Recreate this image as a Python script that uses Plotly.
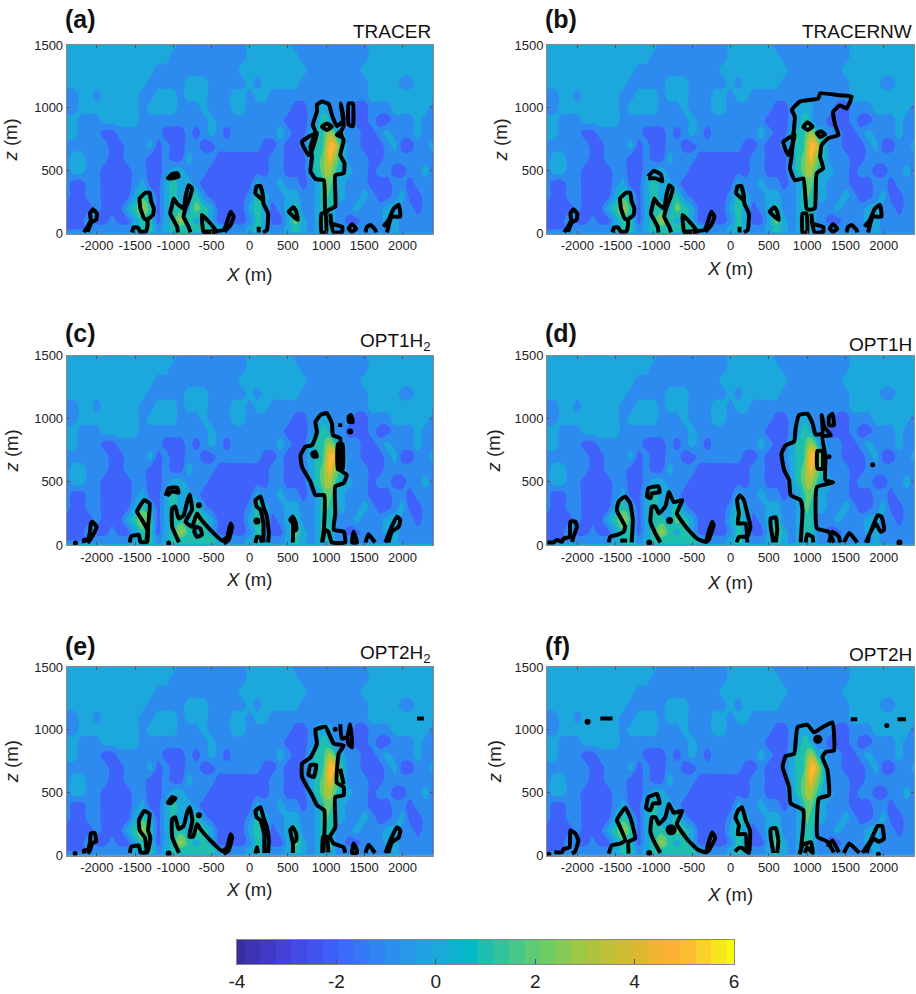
import plotly.graph_objects as go

# ---- shaded field (same in all panels), read as band value / last column (X in hundreds of m)
X_VALUES = [-2400, -2300, -2200, -2100, -2000, -1900, -1800, -1700, -1600, -1500, -1400, -1300, -1200, -1100,
            -1000, -900, -800, -700, -600, -500, -400, -300, -200, -100, 0, 100, 200, 300, 400, 500, 600, 700,
            800, 900, 950, 1000, 1050, 1100, 1150, 1200, 1300, 1400, 1500, 1600, 1700, 1800, 1900, 2000, 2100,
            2200, 2300, 2400]
Z_VALUES = [0, 20, 50, 100, 200, 300, 400, 500, 600, 700, 800, 900, 1000, 1100, 1200, 1300, 1400, 1500]
FIELD_BANDS = {
 1500: [(0,-10),(-1,-1),(0,5),(-1,15),(0,24)],
 1400: [(0,-11),(-1,-1),(0,6),(-1,15),(0,24)],
 1300: [(0,-13),(-1,-2),(0,7),(-1,14),(0,24)],
 1200: [(0,-14),(-1,-9),(0,-6),(-1,-1),(0,0),(-1,1),(0,6),(-1,15),(0,19),(-1,21),(0,24)],
 1100: [(-1,-23),(0,-21),(-1,-20),(0,-15),(-1,-13),(0,-10),(-1,-9),(0,-6),(-1,-3),(0,-1),(-1,0),(0,2),(-1,15),(0,24)],
 1000: [(-1,-23),(0,-15),(-1,-14),(0,-10),(-1,-7),(0,-6),(-1,-3),(0,-1),(-1,5),(-2,7),(-1,8),(0,10.5),(-1,13),(-2,15),(-1,18),(0,23),(-1,24)],
 900: [(0,-23),(-1,-20),(0,-15),(-1,-6),(0,-5),(-1,4),(-2,7),(-1,8),(0,9),(1,10),(0,10.5),(-1,12),(-2,15),(-1,16),(-2,18),(-1,21),(0,22),(-1,24)],
 800: [(0,-23),(-1,-20),(-2,-18),(-1,-12),(-2,-9),(-1,-8),(-2,-7),(-1,-6),(0,-5),(-1,-4),(-2,-3),(-1,3),(0,4),(-1,5),(-2,7),(0,8),(1,9.5),(2,10),(3,10.5),(2,11),(0,12),(-1,14),(-2,16),(-1,17),(0,18),(-1,21),(0,22),(-1,24)],
 700: [(-1,-19),(-2,-17),(-1,-14),(0,-13),(-2,-12),(-1,-11),(-2,-9),(-1,-7),(-2,-5),(-1,1),(-2,3),(-1,4),(-2,6),(-1,7),(0,8),(1,9.5),(3,10),(5,11),(3,11.5),(1,12),(-1,14),(-2,17),(-1,18),(0,19),(-2,21),(-1,23),(0,24)],
 600: [(-1,-24),(0,-22),(-1,-19),(-2,-17),(-1,-14),(-2,-12),(-1,-11),(-2,-9),(0,-8),(-1,-5),(-2,2),(-1,4),(-2,7),(0,8),(1,9),(2,9.5),(3,10),(5,10.5),(3,11),(2,11.5),(1,12),(-1,15),(-2,17),(-1,24)],
 500: [(-1,-24),(0,-22),(-1,-20),(-2,-16),(-1,-14),(-2,-12),(-1,-11),(0,-9),(-1,-6),(-2,2),(-1,4),(-2,7),(0,8),(1,9),(2,9.5),(3,10.5),(2,11),(1,11.5),(0,13),(-1,15),(-2,16),(-1,18),(-2,20),(-1,22),(0,23),(-1,24)],
 400: [(-1,-24),(-2,-22),(-1,-20),(-2,-16),(-1,-15),(0,-14),(-2,-12),(0,-11),(1,-10),(0,-8),(-1,-7),(-2,0),(0,1),(-1,3),(0,4),(-1,6),(-2,7),(-1,8),(0,9),(1,9.5),(2,10.5),(1,11),(0,12),(-1,15),(-2,18),(-1,20),(-2,21),(-1,24)],
 300: [(-1,-24),(-2,-22),(-1,-20),(-2,-16),(0,-15),(1,-14),(0,-13),(-2,-12),(0,-11),(1,-10),(0,-8),(1,-7),(-1,-6),(-2,-1),(-1,0),(1,1),(0,2),(-1,4),(0,6),(-1,8),(0,9),(1,9.5),(2,10),(1,11),(0,12),(-1,14),(0,15),(-1,16),(-2,18),(-1,19),(0,20),(-2,22),(-1,24)],
 200: [(-2,-21),(-1,-20),(-2,-17),(0,-16),(1,-15),(3,-14),(1,-13),(-2,-12),(0,-11),(1,-9),(0,-8),(2,-7),(1,-6),(0,-5),(-2,-1),(0,0),(1,1),(0,2),(-2,3),(-1,4),(0,5),(1,6),(-1,8),(0,9),(1,10.5),(0,11),(-1,13),(0,14),(-1,17),(0,19),(-1,21),(-2,22),(-1,24)],
 100: [(-2,-22),(0,-21),(-2,-19),(-1,-18),(-2,-16),(0,-15),(1,-13),(-2,-12),(0,-11),(1,-10),(3,-9),(1,-8),(0,-7),(1,-6),(0,-5),(-2,-1),(-1,0),(1,1),(0,2),(-2,4),(0,5),(2,6),(0,7),(-1,8),(0,9),(1,10.5),(0,11),(-1,12),(-2,14),(-1,17),(0,19),(-1,24)],
 50: [(-2,-22),(-1,-16),(0,-15),(1,-13),(-1,-12),(0,-11),(1,-5),(0,-4),(-1,-1),(0,0),(1,1),(0,2),(-1,4),(0,5),(1,6),(0,7),(-1,8),(0,9),(1,10.5),(0,11),(-1,18),(0,19),(-1,24)],
 20: [(-1,-16),(0,-15),(1,-13),(-1,-12),(0,-11),(1,-5),(0,-4),(-1,-1),(0,0),(1,1),(0,2),(-1,4),(0,5),(1,6),(0,7),(-1,8),(0,11),(-1,18),(0,19),(-1,24)],
 0: [(0,24)],
}

# ---- black contour outlines per panel, (X, z) in metres
SHARED_AB = [
 [(-2170,10),(-2120,55),(-2080,110),(-2090,160),(-2050,195),(-2000,160),(-2010,110),(-2070,90),(-2120,15)],
 [(-1540,10),(-1520,50),(-1465,50),(-1430,15),(-1355,20),(-1335,80),(-1340,110),(-1265,150),(-1255,200),(-1290,255),(-1310,325),(-1365,325),(-1440,280),(-1430,200),(-1380,120),(-1340,110)],
 [(-940,10),(-950,55),(-1040,160),(-1020,215),(-995,280),(-950,240),(-865,200),(-840,295),(-800,385),(-755,360),(-780,295),(-840,200),(-865,135),(-800,55),(-775,10)],
 [(-625,150),(-600,10),(-430,15),(-535,95),(-625,150)],
 [(-600,15),(-340,30),(-295,95),(-250,175),(-210,135),(-250,70),(-330,15)],
 [(118,10),(118,55)],
 [(175,10),(225,30),(240,160),(180,240),(175,295),(140,380),(90,375),(75,320),(165,270)],
 [(510,175),(575,210),(610,175),(630,110),(575,135),(510,175)],
 [(940,10),(940,160),(990,160),(1000,10),(940,10)],
 [(1055,160),(1075,80),(1210,55),(1210,15),(1100,10),(1055,110)],
 [(1295,40),(1340,75),(1395,40),(1340,15),(1295,40)],
 [(1515,10),(1535,55),(1580,70),(1645,30),(1655,10)],
 [(1750,55),(1820,110),(1885,200),(1950,230),(1970,135),(1860,135),(1795,10)],
]
PANEL_A = SHARED_AB + [
 [(-1070,440),(-1015,475),(-950,480),(-930,455),(-1015,440),(-1070,440)],
 [(990,160),(970,425),(860,435),(795,495),(815,610),(795,690),(860,810),(825,865),(880,970),(880,1025),(945,1050),(1035,1030),(1075,945),(1140,855),(1230,905),(1190,1035),(1230,860),(1185,795),(1230,745),(1185,625),(1240,560),(1230,480),(1120,465),(1120,215),(1035,190),(990,160)],
 [(685,730),(770,770),(880,800),(815,665),(770,625),(705,690),(685,730)],
 [(945,850),(1010,875),(1075,850),(1010,825),(945,850)],
 [(1140,785),(1185,810),(1205,770),(1140,785)],
 [(1295,1035),(1350,1035),(1350,855),(1295,865),(1295,1035)],
]
PANEL_B = SHARED_AB + [
 [(-1075,455),(-1000,500),(-910,470),(-890,415),(-975,440),(-1075,440)],
 [(993,200),(950,440),(840,425),(775,520),(795,600),(820,785),(840,930),(800,985),(905,1050),(1145,1075),(1170,1115),(1430,1100),(1580,1090),(1515,995),(1430,1020),(1340,970),(1365,865),(1410,785),(1275,760),(1190,705),(1170,610),(1210,520),(1125,480),(1100,200),(1035,190),(993,200)],
 [(690,730),(840,785),(755,625),(710,680),(690,730)],
 [(950,850),(1005,885),(1070,850),(1005,825),(950,850)],
 [(1125,800),(1180,815),(1235,790),(1170,770),(1125,800)],
]
PANEL_C = [
 [(-2170,15),(-2170,40),(-2120,45),(-2090,105),(-2080,170),(-2060,185),(-2005,145),(-2040,90),(-2090,40),(-2120,15)],
 [(-1570,20),(-1550,70),(-1450,80),(-1430,25),(-1340,25),(-1330,145),(-1310,330),(-1380,355),(-1475,265),(-1410,200),(-1340,120),(-1350,40)],
 [(-1100,390),(-1060,450),(-950,455),(-930,415),(-1015,425),(-1080,390)],
 [(-925,20),(-1015,145),(-1015,290),(-975,305),(-930,210),(-865,235),(-820,340),(-785,400),(-755,280),(-840,185),(-755,145),(-690,250),(-645,210),(-515,120),(-360,35),(-295,65),(-250,170),(-230,145),(-275,40),(-340,10)],
 [(-710,145),(-645,130),(-625,80),(-690,65),(-725,105),(-710,145)],
 [(75,15),(95,65),(140,60),(160,20)],
 [(240,20),(250,90),(225,225),(180,305),(140,385),(75,355),(90,305),(140,280),(180,170),(180,20)],
 [(565,20),(565,170),(530,200),(565,225),(605,170),(610,120),(565,105)],
 [(945,20),(970,120),(975,395),(860,395),(795,500),(685,620),(665,710),(730,780),(815,790),(880,895),(860,975),(925,1030),(1010,1045),(1075,965),(1090,870),(1185,845),(1185,595),(1270,555),(1230,490),(1120,465),(1120,250),(1100,120),(1230,105),(1250,20),(1075,20),(1030,105),(990,120),(950,20)],
 [(1155,800),(1155,600),(1215,600),(1215,800),(1155,800)],
 [(815,725),(860,740),(880,700),(835,700),(815,725)],
 [(1295,1015),(1325,1030),(1350,975),(1300,975),(1295,1015)],
 [(1185,965),(1185,935)],
 [(1340,20),(1360,105),(1405,20),(1340,20)],
 [(1515,20),(1555,85),(1640,20)],
 [(1775,20),(1840,120),(1925,225),(1970,200),(1950,145),(1860,105),(1815,20)],
]
PANEL_D = [
 [(-2390,20),(-2310,20),(-2265,40),(-2200,25),(-2180,50),(-2100,65),(-2090,185),(-2025,185),(-2005,145),(-2050,65),(-2070,25)],
 [(-1590,20),(-1570,65),(-1460,85),(-1395,105),(-1375,145),(-1485,275),(-1460,345),(-1375,385),(-1310,330),(-1275,200),(-1290,20)],
 [(-1440,35),(-1350,35)],
 [(-1090,385),(-1070,450),(-940,465),(-925,420),(-1025,410),(-1045,370),(-1090,385)],
 [(-915,20),(-980,90),(-1045,185),(-1025,305),(-980,305),(-935,250),(-850,305),(-805,420),(-740,340),(-630,355),(-700,250),(-565,130),(-435,50),(-325,25),(-285,105),(-240,185),(-220,160),(-285,40),(-325,20)],
 [(80,20),(110,65),(220,65),(260,145),(220,250),(175,355),(120,395),(85,355),(110,250),(95,170),(195,170),(220,20)],
 [(560,20),(525,145),(525,210),(590,220),(610,120),(590,20)],
 [(915,20),(940,275),(915,355),(785,395),(765,515),(700,595),(665,725),(720,790),(830,820),(850,925),(895,1030),(1005,1040),(1070,965),(1110,875),(1200,885),(1190,1030),(1225,935),(1310,870),(1200,860),(1240,700),(1240,515),(1340,495),(1130,460),(1110,275),(1130,130),(1280,105),(1350,20)],
 [(1135,745),(1135,605),(1200,605),(1200,745),(1135,745)],
 [(1285,1015),(1330,1040),(1350,950),(1285,950),(1285,1015)],
 [(980,20),(1000,85),(1070,65),(1080,20)],
 [(1285,20),(1330,105),(1415,65),(1430,20)],
 [(1480,20),(1550,95),(1655,20)],
 [(1765,20),(1830,105),(1920,235),(1970,225),(2005,120),(1960,105),(1895,170),(1810,80),(1790,20)],
]
PANEL_E = [
 [(-2170,15),(-2170,40),(-2120,45),(-2090,105),(-2080,175),(-2030,180),(-2010,110),(-2060,100),(-2090,40),(-2120,15)],
 [(-1570,20),(-1550,70),(-1450,80),(-1430,25),(-1340,25),(-1300,140),(-1330,200),(-1310,330),(-1380,355),(-1450,280),(-1440,200),(-1370,140),(-1350,40)],
 [(-1070,420),(-1015,465),(-970,455),(-1035,415),(-1070,420)],
 [(-925,20),(-1015,145),(-1015,290),(-975,305),(-930,210),(-865,235),(-820,340),(-785,385),(-750,280),(-790,150),(-740,150),(-690,250),(-645,210),(-515,120),(-360,35),(-295,65),(-250,170),(-230,145),(-275,40),(-340,10)],
 [(75,15),(95,65),(110,20)],
 [(240,20),(250,120),(225,225),(180,305),(140,385),(75,355),(90,305),(140,280),(190,170),(190,20)],
 [(565,20),(565,100),(530,200),(565,225),(610,170),(610,120),(565,100)],
 [(965,25),(975,360),(880,400),(815,480),(685,625),(685,730),(795,780),(880,890),(860,1000),(990,1025),(1055,945),(1100,890),(1230,875),(1165,810),(1140,580),(1230,545),(1230,480),(1120,465),(1120,225),(1050,150),(1100,95),(1230,65),(1250,20)],
 [(950,20),(960,150),(1010,150),(1030,25)],
 [(770,640),(795,720),(870,720),(840,625),(770,640)],
 [(1185,690),(1230,570)],
 [(1185,1045),(1205,930),(1275,945),(1315,1045),(1340,860),(1295,885),(1275,945)],
 [(2190,1090),(2280,1090)],
 [(1340,20),(1360,95),(1405,40),(1400,20),(1340,20)],
 [(1515,20),(1555,85),(1640,20)],
 [(1775,20),(1840,120),(1925,225),(1970,200),(1950,145),(1860,105),(1815,20)],
]
PANEL_F = [
 [(-2300,25),(-2200,25),(-2180,50),(-2100,65),(-2090,200),(-2025,175),(-1985,120),(-2030,30),(-2070,15)],
 [(-1590,15),(-1550,80),(-1440,95),(-1375,120),(-1460,250),(-1485,280),(-1375,380),(-1310,305),(-1245,135),(-1330,110),(-1330,15)],
 [(-1100,375),(-1070,465),(-960,490),(-925,415),(-1010,415),(-1045,360),(-1100,375)],
 [(-915,20),(-980,90),(-1045,185),(-1025,305),(-980,305),(-935,250),(-850,305),(-805,410),(-740,340),(-630,355),(-700,250),(-565,130),(-435,50),(-325,25),(-285,105),(-240,185),(-200,140),(-285,40),(-325,20)],
 [(60,30),(110,60),(150,60),(240,20),(255,200),(200,280),(150,385),(100,360),(65,300),(110,240),(95,170),(195,170),(210,30)],
 [(560,20),(525,145),(525,210),(590,220),(625,120),(610,20)],
 [(915,25),(950,360),(785,415),(765,545),(680,705),(720,790),(830,810),(875,1020),(1005,1040),(1090,980),(1200,1020),(1330,1060),(1350,835),(1245,825),(1200,785),(1265,680),(1285,480),(1155,455),(1135,150),(1265,110),(1350,25)],
 [(900,10),(945,85),(1050,105),(1075,20),(1000,65),(970,20)],
 [(-1700,1090),(-1540,1090)],
 [(1570,1085),(1655,1085)],
 [(2180,1085),(2290,1085)],
 [(1265,70),(1330,120),(1415,25)],
 [(1480,20),(1550,95),(1680,20)],
 [(1720,20),(1830,120),(1920,235),(1980,235),(2000,130),(1930,110),(1870,135),(1800,65),(1780,20)],
]
# small closed blobs, (X, z, marker diameter)
DOTS_A = []
DOTS_B = []
DOTS_C = [(-2280,15,5),(-1060,15,5),(-665,315,6),(95,190,7),(1315,900,6)]
DOTS_D = [(-1060,20,6),(-795,195,7),(1285,700,5),(1855,635,5),(2205,20,6)]
DOTS_E = [(-2285,15,5),(-1060,15,6),(-665,320,6),(1120,1005,5)]
DOTS_F = [(-2370,10,5),(-1060,20,6),(-775,205,11),(1140,925,9),(-1865,1065,6),(2040,1035,5),(1930,10,5)]

PANEL_CONTOURS = [PANEL_A, PANEL_B, PANEL_C, PANEL_D, PANEL_E, PANEL_F]
PANEL_DOTS = [DOTS_A, DOTS_B, DOTS_C, DOTS_D, DOTS_E, DOTS_F]
PANEL_LETTERS = ["(a)", "(b)", "(c)", "(d)", "(e)", "(f)"]
PANEL_NAMES = ["TRACER", "TRACERNW", "OPT1H<sub>2</sub>", "OPT1H", "OPT2H<sub>2</sub>", "OPT2H"]
X_TICKS = [-2000, -1500, -1000, -500, 0, 500, 1000, 1500, 2000]
Z_TICKS = [0, 500, 1000, 1500]
COLORBAR_VALUES = [-4 + 0.3125 * i for i in range(33)]
COLORBAR_TICKS = [-4, -2, 0, 2, 4, 6]

# ---- layout in pixels
W, H = 916, 994
LEFTS = [(66.7, 432.7), (547, 914)]
TOPS = [(45, 233.7), (355.7, 545), (667, 855.5)]
XT_STANDOFF = [15, 9, 9, 12, 8, 13]
YT_STANDOFF = [11, 1, 10, 8, 10, 8]
LETTER_Y = [19, 19, 333, 333, 646, 646]
NAME_Y = [31, 31, 342, 344, 654, 654]

SCALE = [(-4, "#3a2b9f"), (-3, "#4242dc"), (-2, "#3f62fb"), (-1, "#2d8bef"), (0, "#1ca8dc"),
         (0.7, "#05b8c6"), (1, "#1fbfae"), (2, "#5fcc72"), (3, "#a6c63f"), (4, "#d8b92e"),
         (4.6, "#fbb034"), (5, "#fbb735"), (6, "#f7fb12")]
colorscale = [[(v + 4) / 10, c] for v, c in SCALE]

field = []
for zv in Z_VALUES:
    runs = FIELD_BANDS[zv]
    row = []
    for xv in X_VALUES:
        for val, end in runs:
            if xv / 100 <= end + 0.25:
                row.append(val)
                break
    field.append(row)

fig = go.Figure()
AX = dict(showgrid=False, zeroline=False, ticks="inside", ticklen=3, tickcolor="#555555", tickwidth=1,
          linecolor="#8a8a8a", linewidth=1, mirror="ticks", automargin=False,
          tickfont=dict(size=13, color="#222222"))
TITLE_FONT = dict(size=18.5, color="#222222")
layout = {}
for i in range(6):
    s = "" if i == 0 else str(i + 1)
    xl, xr = LEFTS[i % 2]
    yt, yb = TOPS[i // 2]
    fig.add_trace(go.Contour(x=X_VALUES, y=Z_VALUES, z=field, xaxis=f"x{s}", yaxis=f"y{s}",
                             colorscale=colorscale, showscale=False, hoverinfo="skip",
                             autocontour=False,
                             contours=dict(start=-3.5, end=5.5, size=1, coloring="fill", showlines=False),
                             line=dict(width=0, smoothing=1.3)))
    xs, zs = [], []
    for poly in PANEL_CONTOURS[i]:
        xs += [p[0] for p in poly] + [None]
        zs += [p[1] for p in poly] + [None]
    fig.add_trace(go.Scatter(x=xs, y=zs, xaxis=f"x{s}", yaxis=f"y{s}", mode="lines", showlegend=False,
                             hoverinfo="skip", line=dict(color="black", width=4, shape="spline", smoothing=0.4)))
    if PANEL_DOTS[i]:
        fig.add_trace(go.Scatter(x=[d[0] for d in PANEL_DOTS[i]], y=[d[1] for d in PANEL_DOTS[i]],
                                 xaxis=f"x{s}", yaxis=f"y{s}", mode="markers", showlegend=False, hoverinfo="skip",
                                 marker=dict(color="black", opacity=1, size=[d[2] for d in PANEL_DOTS[i]],
                                             line=dict(width=0))))
    layout[f"xaxis{s}"] = dict(AX, domain=[xl / W, xr / W], range=[-2395, 2395], anchor=f"y{s}",
                               tickvals=X_TICKS, ticktext=[str(v) for v in X_TICKS],
                               title=dict(text="<i>X</i> (m)", font=TITLE_FONT, standoff=XT_STANDOFF[i]))
    layout[f"yaxis{s}"] = dict(AX, domain=[1 - yb / H, 1 - yt / H], range=[0, 1500], anchor=f"x{s}",
                               tickvals=Z_TICKS, ticktext=[str(v) for v in Z_TICKS],
                               title=dict(text="<i>z</i> (m)", font=TITLE_FONT, standoff=YT_STANDOFF[i]))

fig.add_trace(go.Heatmap(x=COLORBAR_VALUES, y=[0], z=[COLORBAR_VALUES], xaxis="x7", yaxis="y7",
                         colorscale=colorscale, zmin=-4, zmax=6, showscale=False, hoverinfo="skip"))
layout["xaxis7"] = dict(AX, domain=[237 / W, 734 / W], range=[-4, 6], anchor="y7", tickvals=COLORBAR_TICKS,
                        ticktext=[str(v) for v in COLORBAR_TICKS], ticklen=5,
                        tickfont=dict(size=19, color="#222222"), mirror=True)
layout["yaxis7"] = dict(domain=[1 - 964 / H, 1 - 940 / H], range=[-0.5, 0.5], anchor="x7", showticklabels=False,
                        ticks="", showgrid=False, zeroline=False, linecolor="#8a8a8a", linewidth=1, mirror=True,
                        automargin=False)

ann = []
for i in range(6):
    xl, xr = LEFTS[i % 2]
    ann.append(dict(text=f"<b>{PANEL_LETTERS[i]}</b>", x=(xl - 4) / W, y=1 - LETTER_Y[i] / H, xref="paper", yref="paper",
                    xanchor="left", yanchor="middle", showarrow=False, font=dict(size=25, color="#111111")))
    ann.append(dict(text=PANEL_NAMES[i], x=xr / W, y=1 - NAME_Y[i] / H, xref="paper", yref="paper",
                    xanchor="right", yanchor="middle", showarrow=False, font=dict(size=19, color="#111111")))

fig.update_layout(width=W, height=H, autosize=False, margin=dict(l=0, r=0, t=0, b=0),
                  paper_bgcolor="white", plot_bgcolor="white", showlegend=False,
                  font=dict(family="Liberation Sans, Arial, sans-serif"), annotations=ann, **layout)
fig.write_html("out.html", config=dict(displayModeBar=False),
               post_script="document.body.style.margin='0';document.body.style.overflow='hidden';")
